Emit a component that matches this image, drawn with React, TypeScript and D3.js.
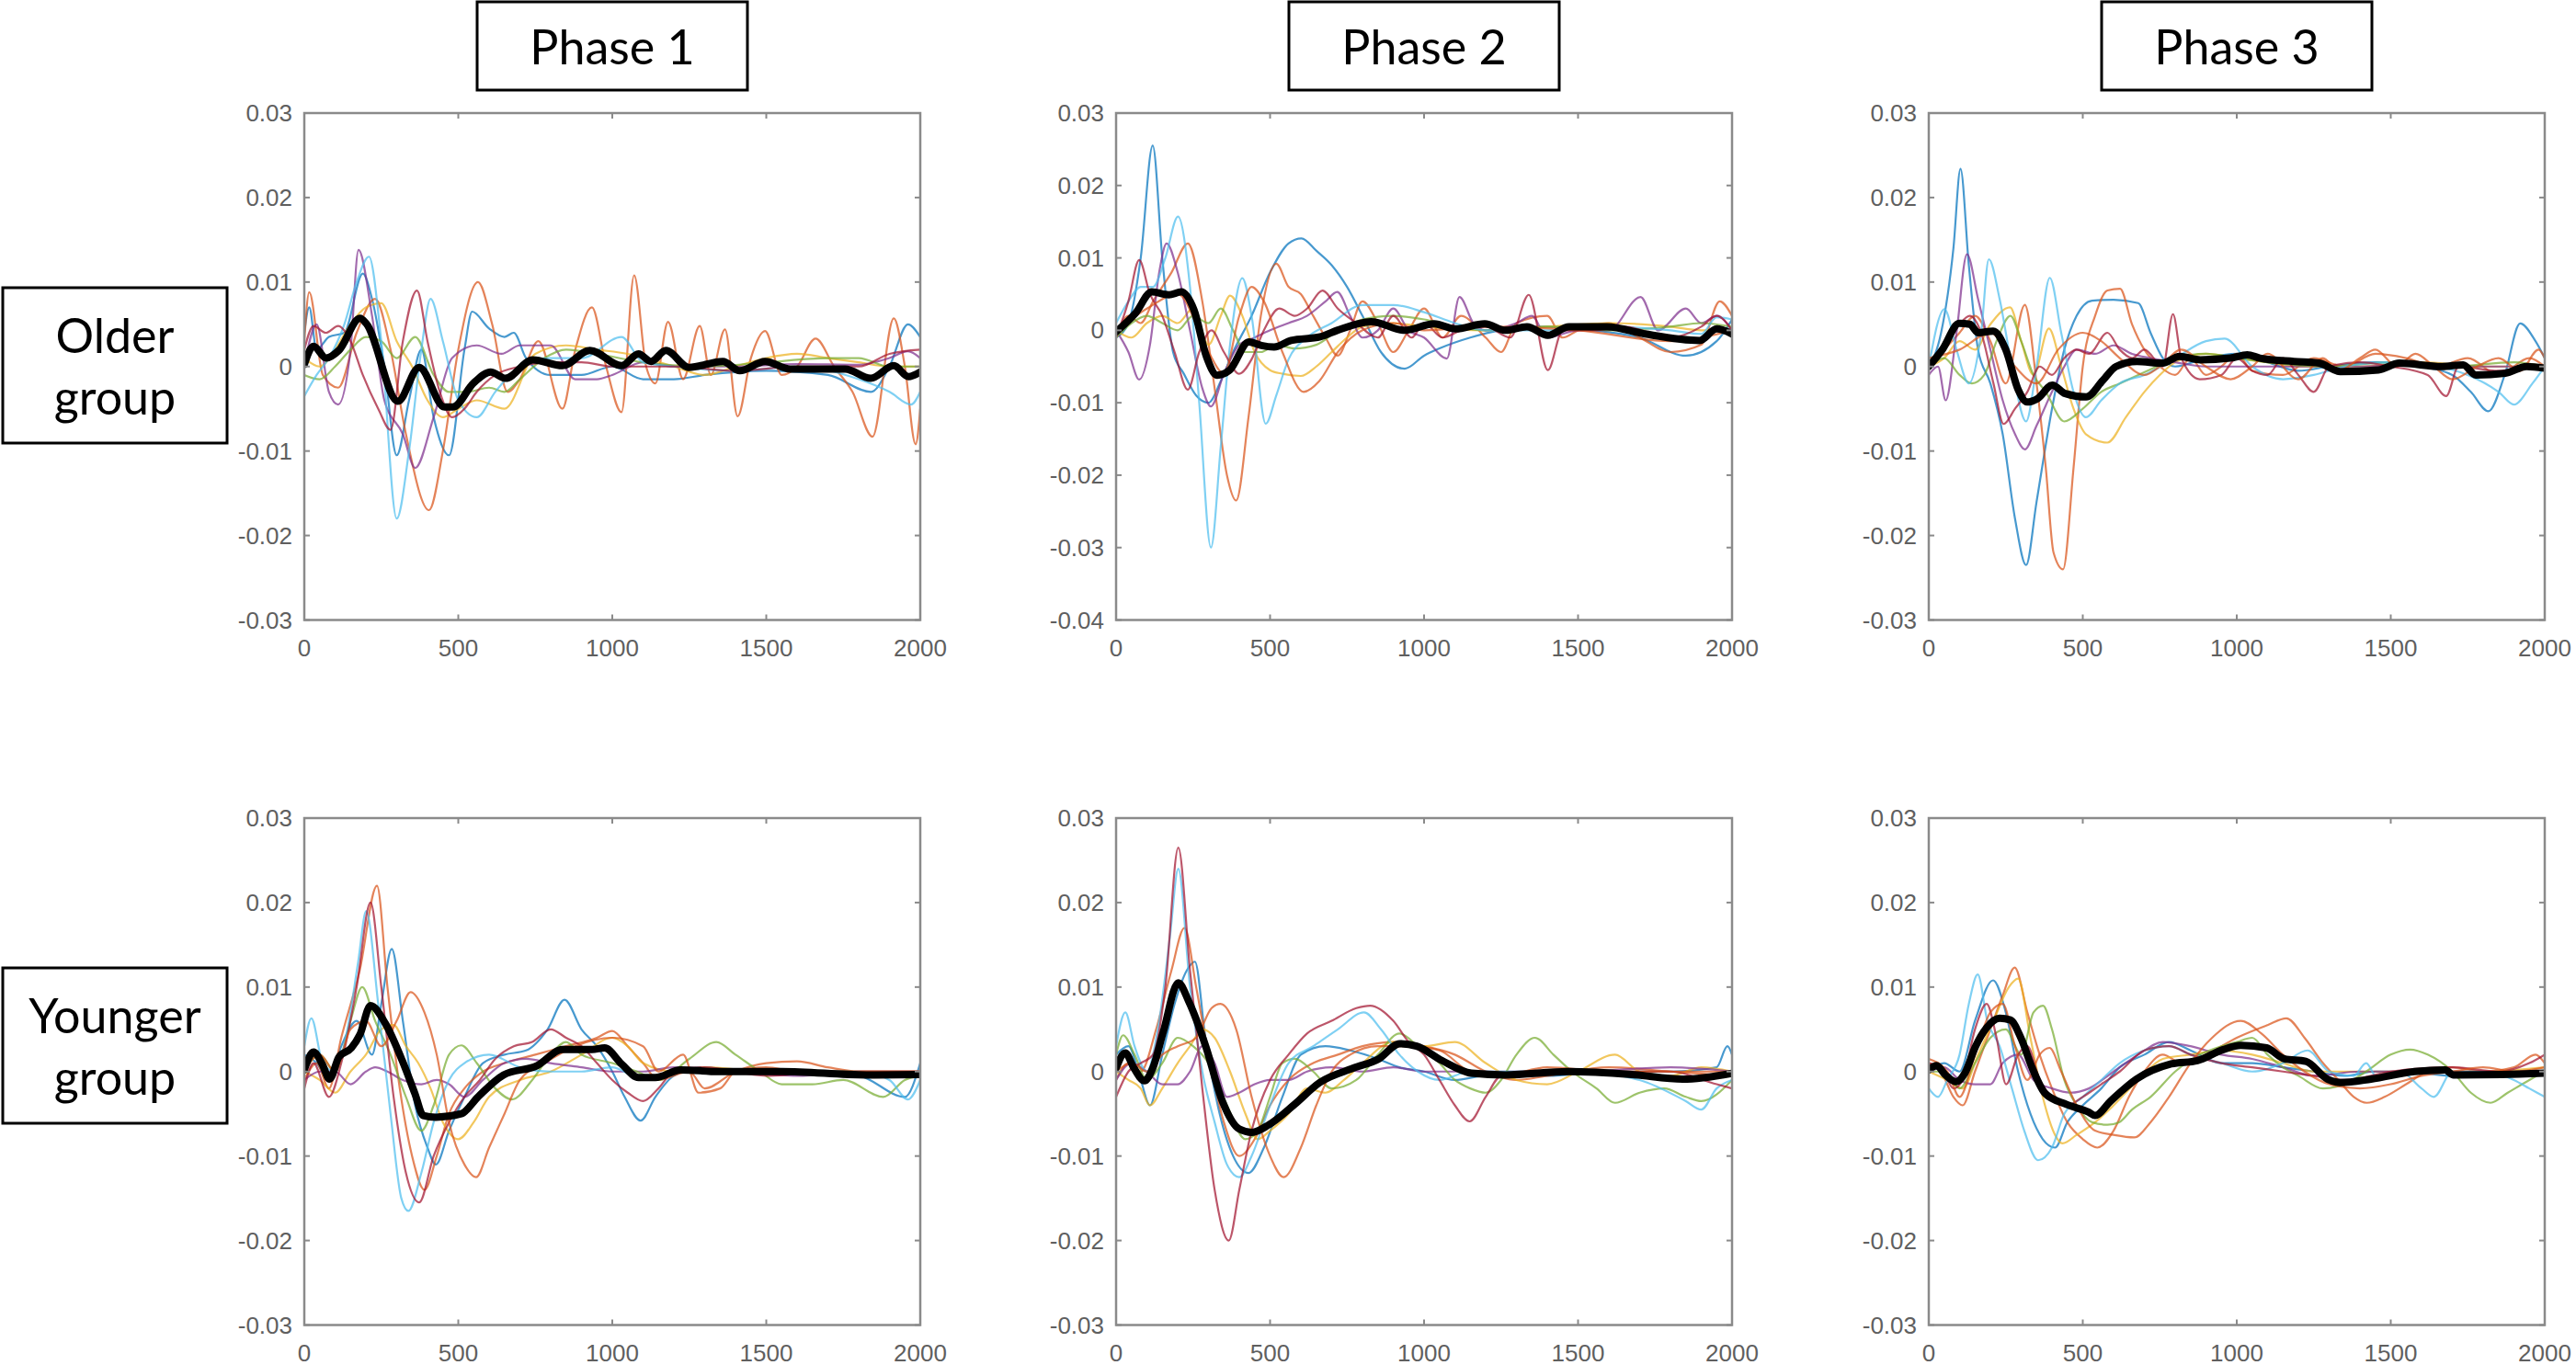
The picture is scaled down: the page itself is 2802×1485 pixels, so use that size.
import React from "react";
import * as d3 from "d3";

// ---------- data (values in units of 0.001) ----------
const UNIT = 0.001;
const X_TICKS = [0, 500, 1000, 1500, 2000];
const Y_TICKS_30 = [-0.03, -0.02, -0.01, 0, 0.01, 0.02, 0.03];
const Y_TICKS_40 = [-0.04, -0.03, -0.02, -0.01, 0, 0.01, 0.02, 0.03];
const PHASE_LABELS = ["Phase 1", "Phase 2", "Phase 3"];
const GROUP_LABELS = [["Older", "group"], ["Younger", "group"]];

// Older group, Phase 1
const O1_LB = [[0,-3.5],[40,-1],[80,1],[130,5],[170,10],[210,13],[250,3],[300,-18],[340,-10],[380,2],[410,8],[450,3],[500,-4],[560,-6],[620,-3],[700,0],[800,1],[900,1],[1030,3.5],[1100,0.5],[1200,0],[1400,-0.5],[1600,0],[1800,-1.5],[1900,-3],[1970,-4.5],[2000,-3]];
const O1_B = [[0,4],[16,7],[40,2],[80,3.5],[130,4],[190,11],[220,8],[260,0],[300,-10.5],[340,-4],[380,2],[420,-6],[470,-10.5],[520,2],[545,6.5],[600,4.5],[650,3.5],[680,4],[720,1],[800,-1],[900,-1],[1000,0],[1100,-1.5],[1200,-1.5],[1300,-1],[1500,-0.5],[1700,-1],[1840,-3],[1900,0],[1960,5],[2000,3.5]];
const O1_O = [[0,3],[16,8.8],[60,-1],[110,-2.5],[170,4],[230,8],[280,2],[330,-8],[405,-17],[450,-10],[500,2],[564,10],[610,5],[660,-3],[700,-1.5],[760,3],[838,-5],[880,2],[934,7],[980,0],[1030,-5.4],[1071,10.8],[1110,0],[1140,-2],[1181,5.3],[1230,-1.5],[1284,4.8],[1320,-1],[1366,4.4],[1407,-5.9],[1450,1],[1496,4.2],[1550,-1],[1600,0],[1660,3.3],[1720,0],[1780,-3],[1845,-8.3],[1914,5.7],[1950,0],[1985,-9.2],[2000,-5]];
const O1_P = [[0,0],[40,5],[80,-3],[110,-4.5],[150,2],[176,13.8],[220,6],[260,-4],[320,-8],[360,-12],[420,-6],[480,1],[560,2.5],[640,1.5],[700,2.5],[800,2.5],[880,-1.5],[950,-1.5],[1000,-1],[1100,0.5],[1200,0],[1400,0],[1600,0.3],[1800,0.2],[1900,1],[1960,1.8],[2000,1]];
const O1_DR = [[0,2],[30,4.8],[70,4],[110,4.8],[150,3],[190,-1],[240,-5],[280,-7.5],[320,3],[366,9],[400,3],[440,-3],[480,-6],[520,-5],[560,-3],[620,-1],[700,0],[800,0.5],[900,0.5],[1000,0],[1200,0],[1400,-0.5],[1600,0],[1800,0],[1900,1.5],[2000,2]];
const O1_Y = [[0,1],[50,0],[100,2],[150,5],[200,7],[250,7.5],[300,3],[350,0],[400,-4],[450,-6],[500,-5],[560,-4],[650,-5],[750,1.5],[850,2.5],[950,2],[1050,1.5],[1200,0],[1300,-1],[1400,0],[1500,1],[1600,1.5],[1700,1],[1800,0.5],[1900,0],[2000,0]];
const O1_G = [[0,-1],[50,-1.5],[100,0],[150,2],[200,3.5],[250,3],[300,1],[360,3.5],[420,-1],[470,-3],[530,-3],[600,-2.5],[650,-3],[700,-1.5],[780,1],[850,2],[950,1.5],[1100,0.5],[1300,0],[1500,0.5],[1700,1],[1800,1],[1900,0],[2000,0]];
const O1_MEAN = [[0,0.25],[30,2.4],[71,1.0],[112,1.9],[181,5.7],[201,5.1],[304,-4.1],[373,-0.1],[455,-4.8],[482,-4.8],[551,-1.9],[605,-0.65],[653,-1.4],[742,0.8],[838,0.1],[927,1.9],[1030,0.1],[1085,1.5],[1126,0.6],[1174,1.9],[1249,-0.1],[1359,0.6],[1414,-0.5],[1496,0.6],[1578,-0.3],[1756,-0.3],[1839,-1.4],[1914,0.1],[1962,-1.2],[2000,-0.65]];

// Older group, Phase 2
const O2_B = [[0,-1],[40,1],[80,10],[119,25.5],[150,10],[185,-3],[220,-6],[260,-9],[300,-10],[340,-7],[380,-3],[440,2],[500,8],[560,12],[602,12.7],[650,11],[700,9],[750,6],[800,2],[860,-3],[937,-5.3],[1000,-3.5],[1050,-2.5],[1150,-1],[1250,0],[1400,0.5],[1550,0],[1700,-1],[1850,-3.5],[1950,-1.5],[2000,1.5]];
const O2_LB = [[0,1],[40,4],[80,6],[120,6],[160,10],[201,15.7],[240,6],[270,-10],[308,-30],[340,-16],[370,-2],[410,7.2],[440,2],[486,-12.9],[520,-9],[560,-4],[620,-1],[700,1],[800,3.5],[900,3.5],[1000,2.5],[1100,1],[1200,0],[1400,0],[1600,0.5],[1800,0],[1900,-0.5],[1950,1.8],[2000,1.5]];
const O2_O = [[0,-1],[40,2],[80,1],[120,4],[180,8],[233,12],[280,4],[320,-8],[360,-20],[390,-23.5],[430,-12],[470,2],[520,9.2],[560,6],[600,5],[640,2],[680,-1],[720,-3.5],[760,0],[800,4],[850,1],[900,-3],[950,0],[1000,3],[1060,-1],[1120,2],[1200,-1],[1250,-3],[1300,1],[1400,2],[1450,-1],[1500,0],[1600,1],[1700,-1],[1800,-3],[1900,-2],[1960,4],[2000,2]];
const O2_O2 = [[0,0],[100,3],[200,5],[300,-3],[350,-6],[400,2],[440,6],[480,4],[540,-3],[609,-8.5],[660,-7],[720,-3],[800,0],[900,1],[1000,0],[1200,0.5],[1500,0],[1800,-1.5],[2000,0]];
const O2_Y = [[0,0],[50,-1],[100,1],[150,2],[200,1],[250,3],[300,-2],[340,2],[370,4.8],[410,2],[450,-3],[500,-5.5],[540,-6],[600,-6.3],[650,-5],[700,-3],[750,-1],[800,0.5],[900,1],[1000,0.5],[1200,0],[1400,0.5],[1600,1],[1800,0.5],[1900,0],[2000,0]];
const O2_P = [[0,0],[40,-3],[75,-6.8],[110,-2],[140,8],[164,12],[200,8],[240,0],[280,-8],[308,-10.5],[350,-6],[400,-2],[450,-1],[500,0],[560,1],[620,2],[680,4],[718,5.3],[760,2],[800,-1],[850,0],[900,3],[950,0],[1000,-1],[1074,-3.9],[1115,4.6],[1160,1],[1200,0],[1300,1],[1350,2],[1400,-1],[1500,0],[1600,0],[1703,4.6],[1760,0],[1850,3],[1900,1],[1950,2],[2000,0]];
const O2_DR = [[0,-1],[40,4],[75,9.7],[110,5],[150,2],[190,-3],[233,-8.2],[270,-3],[310,0],[350,-3],[400,-6],[440,-4],[480,0],[530,3],[580,2],[620,3],[670,5.5],[720,3],[780,1],[850,-1],[900,2],[960,-1],[1000,1],[1060,-1],[1120,0],[1200,0.5],[1280,-1],[1340,4.9],[1402,-5.5],[1450,0],[1550,0],[1650,0.5],[1800,-1],[1900,0.5],[1950,2],[2000,0]];
const O2_G = [[0,-1],[50,1],[100,2],[150,1],[200,0],[250,2],[300,1],[340,3],[380,0],[420,-3],[470,-3],[520,-2],[580,-2.5],[650,-2],[720,0],[800,1.5],[900,2],[1000,1.5],[1100,0.5],[1200,0],[1400,0.5],[1600,0],[1800,0.5],[1900,1],[2000,0.5]];
const O2_MEAN = [[0,-0.2],[62,2.3],[116,5.3],[171,4.9],[212,5.3],[253,2.8],[294,-3.7],[328,-6.2],[369,-5.5],[431,-1.6],[472,-2.1],[513,-2.3],[568,-1.4],[663,-0.9],[718,0],[828,1.2],[937,0],[1033,0.9],[1101,0.2],[1197,0.9],[1265,0],[1334,0.5],[1402,-0.7],[1471,0.5],[1594,0.5],[1717,-0.5],[1895,-1.4],[1950,0.2],[2000,-0.5]];

// Older group, Phase 3
const O3_B = [[0,0],[40,4],[80,14],[103,23.4],[130,12],[160,2],[200,-2],[240,-8],[280,-18],[316,-23.5],[350,-16],[400,-5],[440,2],[480,6],[530,7.8],[600,7.9],[680,7.5],[720,4],[760,1],[800,0],[900,1],[1000,1.5],[1100,0.5],[1200,-0.5],[1300,0],[1450,0.5],[1600,0],[1700,-1],[1760,-3],[1817,-5.3],[1870,-1],[1920,5.1],[1970,3],[2000,1]];
const O3_LB = [[0,0],[51,6.8],[90,2],[130,-2],[170,4],[195,12.7],[230,8],[270,0],[316,-6.5],[350,0],[393,10.5],[430,4],[470,-3],[510,-6],[560,-4],[620,-2],[700,-1],[800,1],[900,3],[960,3.3],[1050,0],[1150,-1.5],[1250,-1],[1350,0],[1500,0.5],[1650,0],[1750,-1],[1850,-3],[1900,-4.5],[1960,-2],[2000,0]];
const O3_O = [[0,0],[50,2],[100,4],[150,6],[200,3],[250,-2],[312,7.3],[350,-2],[380,-12],[405,-22],[436,-24],[470,-12],[500,0],[540,6],[580,9],[621,9.2],[660,5],[700,2],[750,0],[800,-1],[850,1],[900,-1],[950,0],[1000,1.5],[1050,-0.5],[1150,-1],[1250,1],[1350,0],[1450,1.5],[1550,1],[1650,0],[1750,1],[1850,-1],[1950,1],[2000,0]];
const O3_O2 = [[0,1],[100,2],[200,4],[280,0],[350,-2],[420,2],[500,4],[560,3],[620,1],[700,-1],[750,0],[820,2],[900,0],[980,-1.5],[1050,0],[1100,1.5],[1200,-1.5],[1280,1],[1330,-0.5],[1400,1],[1450,2],[1520,0],[1580,1.5],[1640,0],[1700,-1.5],[1780,0],[1850,1],[1920,-0.5],[1980,2],[2000,1]];
const O3_Y = [[0,0],[50,1],[100,3],[150,2],[200,5],[264,7],[300,3],[340,-1],[390,4.5],[430,0],[470,-5],[510,-8],[580,-9],[640,-6],[700,-3],[750,-1],[800,0.5],[900,1.5],[1000,1],[1100,0.5],[1200,0],[1400,0],[1600,0.5],[1800,0],[2000,0]];
const O3_P = [[0,-1],[30,0],[55,-4],[90,4],[124,13.3],[160,8],[200,2],[240,-4],[280,-8],[312,-9.8],[350,-7],[400,-3],[440,0],[480,2],[540,1.5],[600,2.5],[660,1.5],[720,1],[800,0.5],[900,0],[1000,0],[1200,0],[1400,0],[1600,0.3],[1800,0],[2000,0]];
const O3_DR = [[0,0],[50,2],[100,5],[133,6],[170,4],[210,-2],[243,-6.8],[280,-5],[320,-3],[360,0],[400,-1],[440,1],[480,2],[520,1.5],[580,4],[620,2],[660,1],[700,2],[760,0],[793,6.2],[820,1],[880,-1.5],[950,-1],[1000,1],[1050,-0.5],[1100,-1],[1150,1],[1200,-1],[1250,-3],[1300,0],[1400,0.5],[1500,0],[1620,-1],[1680,-3.5],[1720,0],[1850,-0.5],[1950,0],[2000,0]];
const O3_G = [[0,0],[50,1],[100,-1],[140,-2],[180,-1],[220,3],[265,6],[300,3],[340,-1],[380,-3],[440,-6.5],[500,-5],[560,-3],[620,-2],[680,-1],[740,0],[800,1],[900,1.5],[1000,1],[1100,0.5],[1300,0],[1500,0.5],[1700,0],[1900,0.5],[2000,0]];
const O3_MEAN = [[0,0],[44,2],[99,5.1],[133,5],[161,4],[209,4.2],[250,2],[291,-2.8],[319,-4.2],[353,-3.8],[401,-2.2],[443,-3.2],[511,-3.6],[566,-1.6],[608,0],[676,0.6],[759,0.4],[814,1.2],[882,0.8],[979,1],[1034,1.4],[1075,1],[1185,0.6],[1267,0.4],[1336,-0.6],[1460,-0.4],[1528,0.4],[1666,0],[1735,0.2],[1776,-1],[1872,-0.8],[1941,0],[2000,-0.2]];

// Younger group, Phase 1
const Y1_O = [[0,-1],[40,1],[80,-2],[120,4],[180,12],[236,22],[270,10],[310,-2],[350,-10],[390,-14],[430,-10],[470,-5],[520,-2],[580,0],[650,1],[750,2],[850,3],[950,4],[1000,4.8],[1050,3],[1100,1],[1150,-1],[1250,0],[1300,-2],[1400,0],[1500,1],[1600,1.2],[1700,0.5],[1800,0],[2000,0]];
const Y1_O2 = [[0,0],[50,2],[100,0],[150,5],[200,6],[250,3],[300,6],[345,9.4],[390,7],[430,2],[470,-6],[520,-11],[558,-12.5],[600,-9],[650,-5],[700,-1],[780,1],[880,3],[1000,4],[1100,3],[1150,0],[1230,2],[1280,-2.5],[1350,-2],[1400,0],[1500,0.5],[1600,0],[2000,0]];
const Y1_DR = [[0,-2],[30,1],[80,-3],[120,1],[170,10],[215,20],[250,10],[290,-3],[330,-12],[373,-15.5],[420,-10],[470,-6],[520,-3],[570,-1],[620,1.5],[680,3],[740,3.5],[800,5],[850,4],[900,3],[950,1],[1000,-1],[1050,-2.5],[1100,-3.5],[1150,-2],[1200,0],[1300,0.5],[1500,-0.5],[1600,-0.3],[1800,0],[2000,0]];
const Y1_B = [[0,2],[40,1],[80,-1],[120,3],[170,6],[220,2],[250,8],[284,14.5],[320,6],[360,-4],[400,-9],[427,-11],[470,-7],[520,-3],[580,1],[650,2],[720,2.5],[790,5],[845,8.5],[900,5],[950,3],[1000,0],[1040,-3],[1092,-5.8],[1140,-3],[1200,-0.5],[1300,0.5],[1400,0],[1600,0],[1800,-0.5],[1950,-3],[2000,1]];
const Y1_LB = [[0,3],[23,6.3],[60,1],[100,0],[140,5],[175,13],[201,19],[240,8],[280,-5],[315,-15],[338,-16.5],[380,-12],[420,-6],[470,-1],[520,1],[600,2],[700,0.5],[800,0],[900,0],[1000,0.5],[1100,-1],[1200,0],[1400,0],[1600,0],[1800,0],[1900,-1],[1960,-3.3],[2000,-1]];
const Y1_G = [[0,0],[50,2],[100,0],[150,6],[188,10],[230,6],[280,2],[330,-3],[380,-7],[420,-4],[470,2],[510,3.1],[560,1],[620,-2],[674,-3.3],[740,-1],[800,2],[850,3.5],[900,2],[1000,1],[1080,0],[1150,-1],[1250,1.5],[1338,3.5],[1400,2],[1480,0],[1550,-1.5],[1650,-1.5],[1750,-1],[1880,-3],[1950,-1],[2000,-0.5]];
const Y1_Y = [[0,0],[50,-1],[100,-2.5],[150,0],[200,2],[250,5],[290,5.5],[330,3],[370,1],[410,-2],[450,-6],[500,-8],[550,-6],[600,-3],[700,-1],[800,0],[900,2],[1000,4],[1050,3],[1100,1],[1200,0],[1300,0.5],[1500,0],[2000,0]];
const Y1_P = [[0,-1],[50,0],[100,0],[150,-1.5],[200,0],[230,0.5],[270,0],[320,-1],[380,-1.5],[430,-1],[470,-1.5],[520,-3],[580,-1],[650,1],[720,1.5],[800,1],[900,0.5],[1000,0],[1100,0],[1200,0.5],[1400,0],[1600,-0.5],[1800,0],[2000,0]];
const Y1_MEAN = [[0,0.2],[30,2.3],[58,0.9],[82,-0.9],[112,1.7],[153,2.8],[181,4.4],[215,7.8],[263,5.7],[318,1.3],[359,-2.6],[386,-5.2],[427,-5.4],[510,-5],[564,-3],[647,-0.4],[756,0.7],[838,2.6],[934,2.6],[975,2.8],[1030,0.9],[1085,-0.7],[1140,-0.7],[1222,0.2],[1345,0],[1551,0],[1825,-0.4],[2000,-0.35]];

// Younger group, Phase 2
const Y2_DR = [[0,-3],[40,0],[80,1],[120,2],[160,10],[202,26.5],[240,12],[280,-2],[320,-14],[366,-20],[400,-14],[440,-7],[500,-1],[560,2],[620,4.5],[700,6],[780,7.5],[825,7.8],[900,6],[950,3.5],[1000,2],[1050,-1],[1100,-4],[1148,-5.9],[1200,-3],[1250,-0.5],[1400,0],[1600,0],[1800,0],[1950,-1.5],[2000,-2]];
const Y2_LB = [[0,3],[30,7],[60,3],[100,0],[140,6],[175,16],[202,24],[240,10],[280,0],[320,-6],[360,-11],[400,-12.5],[440,-10],[500,-4],[560,1],[640,3],[720,5],[805,7],[860,5],[920,2],[980,0],[1050,-1],[1150,0],[1300,0],[1500,0],[1700,-1],[1850,-3.5],[1900,-4.5],[1950,-2],[2000,-1]];
const Y2_O = [[0,-1],[40,1],[80,0],[130,5],[180,12],[222,17],[260,10],[300,2],[350,-6],[400,-10],[450,-8],[500,-4],[560,-1],[640,1],[720,2],[800,3],[900,3.5],[1000,3],[1100,2],[1200,0],[1300,-1],[1400,-0.5],[1600,0.5],[1800,0],[2000,-0.5]];
const Y2_O2 = [[0,0],[50,1],[100,0],[150,2],[200,3],[260,4],[310,7.5],[339,8],[390,5],[440,-3],[500,-10],[544,-12.5],[600,-9],[650,-4],[700,0],[760,2],[850,3],[950,3],[1050,2.5],[1150,0],[1250,-0.5],[1400,0.5],[1600,0],[1800,0],[2000,0]];
const Y2_B = [[0,2],[40,3],[80,-1],[110,-4],[150,2],[190,8],[230,12],[256,13],[290,4],[330,-4],[380,-10],[430,-12],[480,-9],[540,-3],[600,2],[680,3],[760,2.5],[850,1.5],[920,0.5],[1000,0],[1100,-1],[1200,-0.5],[1400,-0.5],[1600,0],[1800,0],[1950,0.5],[1985,3],[2000,2]];
const Y2_G = [[0,2],[23,4.3],[60,2],[100,-1],[150,1],[200,4],[250,3],[300,1],[360,-4],[420,-8],[460,-7],[500,-3],[540,1],[580,1.5],[640,0],[700,-2],[780,-1],[850,2],[920,4.5],[980,3],[1050,1],[1100,-1],[1150,-2],[1200,-2.5],[1250,-1],[1300,2],[1360,4],[1420,2],[1480,0],[1560,-2],[1620,-3.7],[1700,-2.5],[1780,-2],[1850,-3],[1900,-3.5],[2000,-1]];
const Y2_Y = [[0,0],[40,-1],[80,-2],[110,-4],[150,-2],[200,1],[240,3],[280,5],[320,4],[370,0],[420,-5],[460,-8],[500,-7],[560,-5],[620,-2],[680,-2.5],[740,-1],[800,1],[900,3.5],[1000,3],[1100,3.5],[1200,1],[1300,-1],[1400,-1.5],[1500,0],[1620,2],[1700,0],[1800,-0.5],[1900,0.5],[2000,0]];
const Y2_P = [[0,-1],[50,1],[100,0],[150,-1.5],[200,-1.5],[240,0],[280,3],[320,1],[360,-3],[400,-2.5],[450,-1.5],[500,-1],[560,-1],[620,0],[700,0.5],[800,0],[900,0.5],[1000,0],[1200,0],[1500,0],[1800,0.5],[2000,0]];
const Y2_MEAN = [[0,0.4],[30,2.2],[58,0.4],[92,-1.1],[119,0.4],[154,4.8],[202,10.5],[236,8.3],[291,3],[345,-3.5],[400,-6.8],[441,-7.2],[496,-6.3],[579,-3.9],[661,-1.3],[770,0.4],[853,1.5],[921,3.3],[976,3],[1058,1.3],[1154,-0.2],[1264,-0.4],[1470,0],[1675,-0.35],[1840,-0.9],[2000,-0.2]];

// Younger group, Phase 3
const Y3_O = [[0,1],[40,0],[80,-3],[110,-4],[150,0],[200,5],[240,9],[279,12.3],[320,7],[360,2],[400,-2],[450,-6],[500,-8],[547,-9],[600,-7],[650,-3],[700,0],[760,2],[820,1],[900,2],[1000,4],[1100,5.5],[1161,6.3],[1220,4],[1280,1],[1330,-1],[1380,-3],[1422,-3.7],[1480,-3],[1550,-1.5],[1620,0],[1700,0.5],[1800,0],[1900,0.5],[1970,2],[2000,1]];
const Y3_O2 = [[0,1.5],[60,0],[100,-3],[150,2],[200,7],[240,8],[280,3],[320,-1],[360,2],[392,2.8],[430,0],[480,-4],[540,-7],[600,-7.5],[667,-7.8],[720,-6],[780,-3],[850,1],[920,4],[1013,6],[1080,4.5],[1150,2],[1220,0],[1300,-1.5],[1400,-2],[1500,-1.5],[1600,-0.5],[1700,0],[1800,0.5],[1900,0],[2000,0.5]];
const Y3_G = [[0,0],[50,0],[100,-2],[150,1],[200,4],[250,5],[300,2],[340,7],[371,7.8],[400,5],[440,-1],[480,-4],[530,-6],[580,-6.3],[618,-6],[660,-4.5],[720,-3],[800,0],[880,2],[950,3],[1000,3.5],[1050,4],[1100,2],[1150,0.5],[1200,-0.5],[1280,-2],[1350,-1.5],[1420,0],[1500,2],[1563,2.6],[1620,2],[1700,0],[1760,-2.5],[1824,-3.7],[1880,-2.5],[1950,-1],[2000,0]];
const Y3_LB = [[0,-2],[30,-3],[60,-1],[100,2],[130,8],[159,11.5],[190,6],[230,3],[270,-2],[310,-7],[355,-10.5],[400,-9],[440,-5],[500,-3],[560,-1],[620,1],[700,2.5],[780,3],[850,2],[950,1],[1050,0],[1150,1],[1230,2.5],[1300,0],[1380,-0.5],[1420,1],[1460,-1],[1530,0],[1600,-2],[1640,-3],[1700,0],[1800,0],[1900,-1],[1950,-2],[2000,-3]];
const Y3_B = [[0,0],[50,1],[100,0],[150,6],[209,10.8],[250,7],[290,0],[330,-5],[370,-8],[410,-9],[450,-6],[500,-4],[560,-2],[620,0.5],[700,2],[780,3.5],[850,2.5],[950,1],[1050,1],[1150,0.5],[1250,0],[1350,-0.5],[1450,0],[1550,0],[1700,-0.5],[1800,0],[1900,0],[2000,0]];
const Y3_DR = [[0,1],[40,0.5],[80,-2],[110,-1],[150,5],[188,8],[220,4],[251,-1.5],[290,2],[320,3],[360,-1],[400,-3],[450,-4],[500,-3],[560,-1.5],[620,0],[700,2.5],[780,3],[850,2],[950,1],[1050,0.5],[1150,0],[1250,-0.5],[1350,-1],[1500,0],[1700,0.5],[1850,0],[1950,1],[2000,2]];
const Y3_P = [[0,0],[50,0.5],[100,-1],[150,-1.5],[200,-1.5],[240,1],[290,2],[340,-1],[400,-2],[460,-2.5],[520,-2],[600,0],[680,2],[760,3.5],[850,3],[950,2],[1050,1.5],[1150,0.5],[1250,-0.5],[1400,0],[1600,0],[1800,0],[2000,0]];
const Y3_Y = [[0,0],[60,-1],[110,-2],[160,2],[210,6],[260,10],[290,11],[330,4],[370,-3],[410,-7.5],[434,-8.5],[480,-7.5],[540,-6],[600,-4],[680,-1],[760,1.5],[850,2],[950,2.5],[1050,2],[1150,1],[1250,0],[1400,0],[1600,0],[1800,0],[2000,0.5]];
const Y3_MEAN = [[0,0.2],[25,0.7],[54,-0.4],[89,-1.2],[117,-0.2],[152,3],[188,5.2],[230,6.3],[265,6.1],[300,3.9],[336,0.4],[378,-2.6],[448,-3.9],[519,-4.8],[540,-5.2],[590,-3.5],[674,-0.9],[787,0.9],[872,1.3],[956,2.6],[1013,3.1],[1097,2.8],[1154,1.5],[1224,1.2],[1295,-0.9],[1337,-1.3],[1436,-0.9],[1577,0],[1676,0.2],[1704,-0.4],[1859,-0.35],[2000,-0.2]];

// ---------- styles ----------
const COLORS: Record<string, string> = {
  blue: "#0072BD",
  orange: "#D95319",
  yellow: "#EDB120",
  purple: "#7E2F8E",
  green: "#77AC30",
  lightblue: "#4DBEEE",
  darkred: "#A2142F",
};

type Series = [string, number[][]];

const PANELS: { row: number; col: number; yTicks: number[]; series: Series[]; mean: number[][] }[] = [
  { row: 0, col: 0, yTicks: Y_TICKS_30, mean: O1_MEAN,
    series: [["blue", O1_B], ["orange", O1_O], ["yellow", O1_Y], ["purple", O1_P], ["green", O1_G], ["lightblue", O1_LB], ["darkred", O1_DR]] },
  { row: 0, col: 1, yTicks: Y_TICKS_40, mean: O2_MEAN,
    series: [["blue", O2_B], ["orange", O2_O], ["yellow", O2_Y], ["purple", O2_P], ["green", O2_G], ["lightblue", O2_LB], ["darkred", O2_DR], ["orange", O2_O2]] },
  { row: 0, col: 2, yTicks: Y_TICKS_30, mean: O3_MEAN,
    series: [["blue", O3_B], ["orange", O3_O], ["yellow", O3_Y], ["purple", O3_P], ["green", O3_G], ["lightblue", O3_LB], ["darkred", O3_DR], ["orange", O3_O2]] },
  { row: 1, col: 0, yTicks: Y_TICKS_30, mean: Y1_MEAN,
    series: [["blue", Y1_B], ["orange", Y1_O], ["yellow", Y1_Y], ["purple", Y1_P], ["green", Y1_G], ["lightblue", Y1_LB], ["darkred", Y1_DR], ["orange", Y1_O2]] },
  { row: 1, col: 1, yTicks: Y_TICKS_30, mean: Y2_MEAN,
    series: [["blue", Y2_B], ["orange", Y2_O], ["yellow", Y2_Y], ["purple", Y2_P], ["green", Y2_G], ["lightblue", Y2_LB], ["darkred", Y2_DR], ["orange", Y2_O2]] },
  { row: 1, col: 2, yTicks: Y_TICKS_30, mean: Y3_MEAN,
    series: [["blue", Y3_B], ["orange", Y3_O], ["yellow", Y3_Y], ["purple", Y3_P], ["green", Y3_G], ["lightblue", Y3_LB], ["darkred", Y3_DR], ["orange", Y3_O2]] },
];

// ---------- layout ----------
const W = 2802;
const H = 1485;
const PANEL_LEFT = [331, 1214, 2098];
const PANEL_W = 670;
const ROW_TOP = [123, 890];
const PANEL_H = 551.5;
const PHASE_BOX = { y: 2, w: 294, h: 96 };
const GROUP_BOX = { x: 3, w: 244, h: 169, y: [313, 1053] };
const AXIS_COLOR = "#8a8a8a";
const TICK_TEXT = "#5f5f5f";
const TICK_LEN = 6;
const LABEL_FONT = "Lato, 'Open Sans', sans-serif";
const TICK_FONT = "'Liberation Sans', Arial, Helvetica, sans-serif";

const fmtY = (v: number) => (Math.abs(v) < 1e-9 ? "0" : String(+v.toFixed(2)));

function Panel({ idx, row, col, yTicks, series, mean }: any) {
  const left = PANEL_LEFT[col];
  const top = ROW_TOP[row];
  const x = d3.scaleLinear().domain([X_TICKS[0], X_TICKS[X_TICKS.length - 1]]).range([left, left + PANEL_W]);
  const y = d3.scaleLinear().domain([yTicks[0], yTicks[yTicks.length - 1]]).range([top + PANEL_H, top]);
  const line = d3
    .line<number[]>()
    .x((d) => x(d[0]))
    .y((d) => y(d[1] * UNIT))
    .curve(d3.curveMonotoneX);
  const clipId = `clip-${idx}`;
  const right = left + PANEL_W;
  const bottom = top + PANEL_H;
  return (
    <g>
      <defs>
        <clipPath id={clipId}>
          <rect x={left} y={top} width={PANEL_W} height={PANEL_H} />
        </clipPath>
      </defs>
      <g clipPath={`url(#${clipId})`}>
        {series.map(([c, pts]: Series, i: number) => (
          <path key={i} d={line(pts) || ""} fill="none" stroke={COLORS[c]} strokeWidth={2.2} strokeOpacity={0.72} strokeLinejoin="round" />
        ))}
        <path d={line(mean) || ""} fill="none" stroke="#000" strokeWidth={8} strokeLinejoin="round" strokeLinecap="round" />
      </g>
      <rect x={left} y={top} width={PANEL_W} height={PANEL_H} fill="none" stroke={AXIS_COLOR} strokeWidth={2.5} />
      {X_TICKS.map((t) => (
        <g key={`x${t}`}>
          <line x1={x(t)} x2={x(t)} y1={bottom} y2={bottom - TICK_LEN} stroke={AXIS_COLOR} strokeWidth={2} />
          <line x1={x(t)} x2={x(t)} y1={top} y2={top + TICK_LEN} stroke={AXIS_COLOR} strokeWidth={2} />
          <text x={x(t)} y={bottom + 30} textAnchor="middle" dominantBaseline="central" fontFamily={TICK_FONT} fontSize={26} fill={TICK_TEXT}>
            {String(t)}
          </text>
        </g>
      ))}
      {yTicks.map((v: number) => (
        <g key={`y${v}`}>
          <line x1={left} x2={left + TICK_LEN} y1={y(v)} y2={y(v)} stroke={AXIS_COLOR} strokeWidth={2} />
          <line x1={right} x2={right - TICK_LEN} y1={y(v)} y2={y(v)} stroke={AXIS_COLOR} strokeWidth={2} />
          <text x={left - 13} y={y(v)} textAnchor="end" dominantBaseline="central" fontFamily={TICK_FONT} fontSize={26} fill={TICK_TEXT}>
            {fmtY(v)}
          </text>
        </g>
      ))}
    </g>
  );
}

export default function App() {
  return (
    <svg
      width={W}
      height={H}
      viewBox={`0 0 ${W} ${H}`}
      style={{ position: "absolute", left: 0, top: 0, background: "#fff" }}
    >
      <rect x={0} y={0} width={W} height={H} fill="#fff" />
      {PANELS.map((p, i) => (
        <Panel key={i} idx={i} {...p} />
      ))}
      {PHASE_LABELS.map((lab, i) => {
        const cx = PANEL_LEFT[i] + PANEL_W / 2;
        return (
          <g key={lab}>
            <rect x={cx - PHASE_BOX.w / 2} y={PHASE_BOX.y} width={PHASE_BOX.w} height={PHASE_BOX.h} fill="#fff" stroke="#000" strokeWidth={3} />
            <text x={cx} y={PHASE_BOX.y + 68} textAnchor="middle" fontFamily={LABEL_FONT} fontSize={52} fill="#000">
              {lab}
            </text>
          </g>
        );
      })}
      {GROUP_LABELS.map((lines, i) => {
        const y0 = GROUP_BOX.y[i];
        const cx = GROUP_BOX.x + GROUP_BOX.w / 2;
        return (
          <g key={i}>
            <rect x={GROUP_BOX.x} y={y0} width={GROUP_BOX.w} height={GROUP_BOX.h} fill="#fff" stroke="#000" strokeWidth={3} />
            {lines.map((t, j) => (
              <text key={j} x={cx} y={y0 + 71 + j * 67} textAnchor="middle" fontFamily={LABEL_FONT} fontSize={52} fill="#000">
                {t}
              </text>
            ))}
          </g>
        );
      })}
    </svg>
  );
}
